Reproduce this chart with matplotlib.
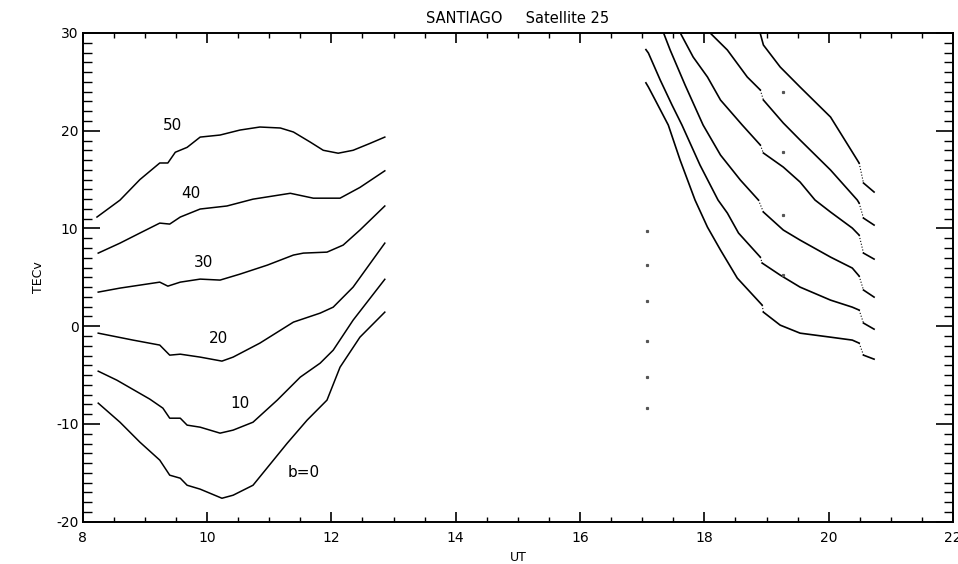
import numpy as np
import matplotlib
matplotlib.use("Agg")
import matplotlib.pyplot as plt
from matplotlib.ticker import MultipleLocator

plt.rcParams["axes.unicode_minus"] = False

# curvas da manha (b = 0 ... 50)
ut_b0 = [8.25, 8.60, 8.92, 9.24, 9.40, 9.57, 9.68, 9.89, 10.24, 10.42, 10.74, 11.29, 11.61, 11.93, 12.14, 12.46, 12.86]
tec_b0 = [-7.87, -9.82, -11.86, -13.7, -15.24, -15.55, -16.27, -16.67, -17.6, -17.29, -16.27, -11.97, -9.61, -7.56, -4.19, -1.12, 1.44]

ut_b10 = [8.25, 8.55, 9.08, 9.29, 9.40, 9.57, 9.68, 9.89, 10.21, 10.42, 10.74, 11.13, 11.50, 11.82, 12.03, 12.35, 12.86]
tec_b10 = [-4.6, -5.52, -7.46, -8.38, -9.41, -9.41, -10.12, -10.33, -10.94, -10.63, -9.82, -7.56, -5.21, -3.78, -2.45, 0.62, 4.8]

ut_b20 = [8.25, 8.81, 9.24, 9.40, 9.57, 9.89, 10.24, 10.42, 10.85, 11.39, 11.82, 12.03, 12.35, 12.86]
tec_b20 = [-0.71, -1.42, -1.93, -2.96, -2.86, -3.16, -3.57, -3.16, -1.73, 0.42, 1.34, 1.95, 4.0, 8.5]

ut_b30 = [8.25, 8.60, 9.24, 9.37, 9.57, 9.89, 10.21, 10.53, 10.97, 11.39, 11.55, 11.93, 12.19, 12.46, 12.86]
tec_b30 = [3.49, 3.9, 4.51, 4.1, 4.51, 4.82, 4.72, 5.33, 6.25, 7.28, 7.48, 7.58, 8.3, 9.84, 12.3]

ut_b40 = [8.25, 8.60, 8.92, 9.24, 9.40, 9.57, 9.89, 10.32, 10.74, 11.34, 11.71, 12.14, 12.46, 12.86]
tec_b40 = [7.48, 8.5, 9.53, 10.55, 10.45, 11.17, 11.99, 12.3, 13.0, 13.6, 13.1, 13.1, 14.2, 15.9]

ut_b50 = [8.23, 8.60, 8.92, 9.24, 9.37, 9.49, 9.68, 9.89, 10.21, 10.53, 10.85, 11.18, 11.39, 11.66, 11.87, 12.11, 12.35, 12.62, 12.86]
tec_b50 = [11.17, 12.9, 15.0, 16.7, 16.7, 17.8, 18.3, 19.35, 19.56, 20.07, 20.38, 20.28, 19.87, 18.84, 18.0, 17.7, 18.0, 18.7, 19.35]

rotulos = ["b=0", "10", "20", "30", "40", "50"]
rot_x = [11.55, 10.53, 10.19, 9.95, 9.74, 9.44]
rot_y = [-15.0, -7.9, -1.3, 6.56, 13.6, 20.5]

# curvas da tarde: trecho 1, trecho 2, cauda
r1_ut = [[17.06, 17.10, 17.21, 17.42, 17.61, 17.85, 18.05, 18.26, 18.53, 18.93],
         [18.95, 19.22, 19.54, 20.03, 20.38, 20.49],
         [20.56, 20.73]]
r1_tec = [[24.9, 24.47, 23.14, 20.58, 17.0, 12.91, 10.14, 7.79, 4.92, 2.16],
          [1.44, 0.11, -0.71, -1.12, -1.42, -1.73],
          [-2.96, -3.37]]

r2_ut = [[17.06, 17.10, 17.29, 17.48, 17.64, 17.93, 18.22, 18.37, 18.55, 18.90],
         [18.93, 19.22, 19.54, 20.03, 20.38, 20.49],
         [20.56, 20.73]]
r2_tec = [[28.3, 27.95, 25.19, 22.63, 20.58, 16.49, 12.91, 11.58, 9.53, 7.07],
          [6.46, 5.23, 4.00, 2.67, 1.95, 1.65],
          [0.32, -0.30]]

r3_ut = [[17.32, 17.45, 17.69, 17.98, 18.26, 18.58, 18.87],
         [18.95, 19.27, 19.54, 20.03, 20.38, 20.49],
         [20.56, 20.73]]
r3_tec = [[30.4, 28.26, 24.68, 20.58, 17.51, 14.95, 12.91],
          [11.68, 9.84, 8.81, 7.07, 5.95, 5.13],
          [3.70, 2.98]]

r4_ut = [[17.58, 17.82, 18.05, 18.26, 18.61, 18.90],
         [18.95, 19.27, 19.54, 19.78, 20.03, 20.38, 20.49],
         [20.56, 20.73]]
r4_tec = [[30.4, 27.54, 25.50, 23.14, 20.58, 18.54],
          [17.72, 16.28, 14.75, 12.91, 11.68, 10.04, 9.32],
          [7.48, 6.87]]

r5_ut = [[18.03, 18.37, 18.69, 18.90],
         [18.95, 19.27, 19.54, 20.03, 20.46, 20.49],
         [20.56, 20.73]]
r5_tec = [[30.4, 28.26, 25.50, 24.17],
          [23.14, 20.79, 19.05, 15.98, 12.91, 12.60],
          [11.06, 10.35]]

r6_ut = [[18.88, 18.95, 19.22, 19.54, 20.03, 20.46, 20.49],
         [20.56, 20.73]]
r6_tec = [[30.4, 28.77, 26.52, 24.47, 21.40, 17.0, 16.69],
          [14.65, 13.73]]

# pontos soltos
pts_ut = [17.08, 17.08, 17.08, 17.08, 17.08, 17.08, 19.27, 19.27, 19.27, 19.27]
pts_tec = [9.77, 6.25, 2.6, -1.5, -5.2, -8.4, 23.96, 17.82, 11.37, 5.23]


fig = plt.figure(figsize=(9.58, 5.64), dpi=100)
ax = fig.add_axes([0.0863, 0.075, 0.9085, 0.8665])

for x, y in [(ut_b0, tec_b0), (ut_b10, tec_b10), (ut_b20, tec_b20),
             (ut_b30, tec_b30), (ut_b40, tec_b40), (ut_b50, tec_b50)]:
    ax.plot(x, y, color="black", lw=1.1)

for t, xx, yy in zip(rotulos, rot_x, rot_y):
    ax.text(xx, yy, t, fontsize=11, ha="center", va="center")

for us, ts in [(r1_ut, r1_tec), (r2_ut, r2_tec), (r3_ut, r3_tec),
               (r4_ut, r4_tec), (r5_ut, r5_tec), (r6_ut, r6_tec)]:
    for i in range(len(us)):
        ax.plot(us[i], ts[i], color="black", lw=1.2)
        if i + 1 < len(us):
            # salto pontilhado entre trechos
            ax.plot([us[i][-1], us[i + 1][0]], [ts[i][-1], ts[i + 1][0]],
                    color="black", lw=0.8, ls=":")

ax.plot(pts_ut, pts_tec, ls="none", marker="s", ms=1.3, color="#555555")

ax.set_xlim(8, 22)
ax.set_ylim(-20, 30)
ax.xaxis.set_major_locator(MultipleLocator(2))
ax.xaxis.set_minor_locator(MultipleLocator(0.5))
ax.yaxis.set_major_locator(MultipleLocator(10))
ax.yaxis.set_minor_locator(MultipleLocator(1))
ax.tick_params(axis="x", which="major", direction="in", length=7, width=1.2,
               top=True, labelsize=10, pad=7)
ax.tick_params(axis="x", which="minor", direction="in", length=3.5, width=1.0, top=True)
ax.tick_params(axis="y", which="major", direction="in", length=12, width=1.2,
               right=True, labelsize=10, pad=3)
ax.tick_params(axis="y", which="minor", direction="in", length=6.5, width=1.0, right=True)
for s in ax.spines.values():
    s.set_linewidth(1.4)

ax.set_title("SANTIAGO     Satellite 25", fontsize=10.5, pad=7)
ax.set_xlabel("UT", fontsize=9, labelpad=4)
ax.set_ylabel("TECv", fontsize=9, labelpad=8)

plt.savefig("out.png", dpi=100)
